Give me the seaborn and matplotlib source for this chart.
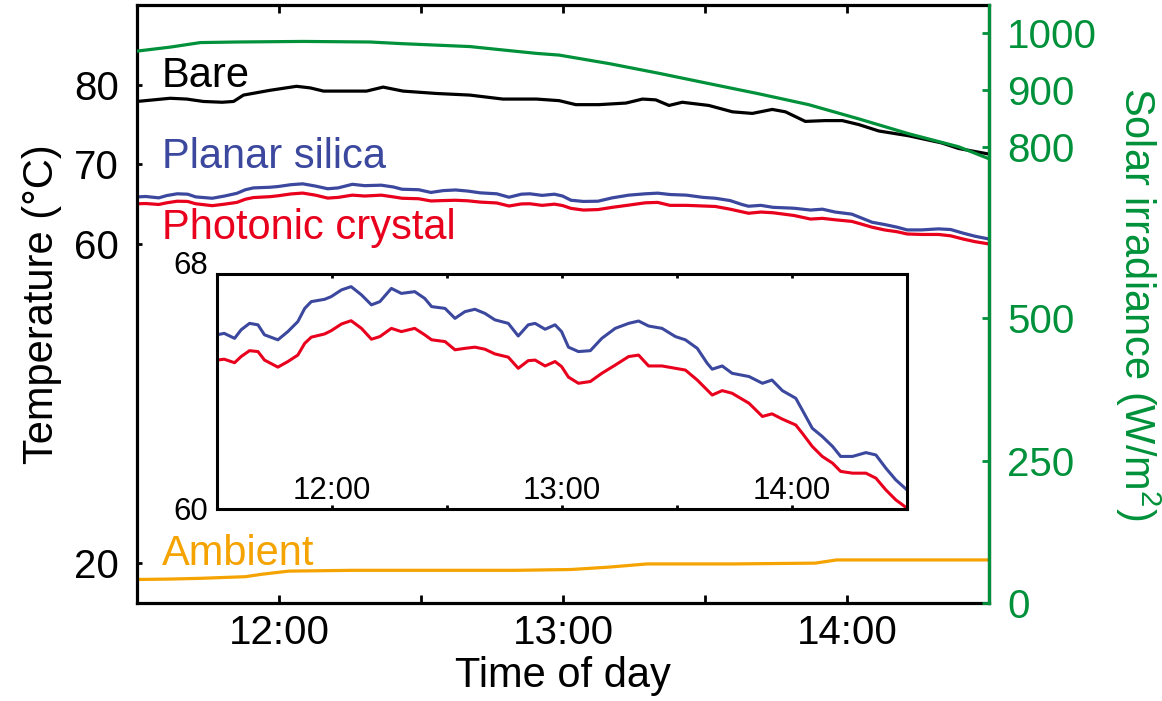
import numpy as np
import matplotlib
matplotlib.use("Agg")
import matplotlib.pyplot as plt
import seaborn as sns

# ---- measured data (time in minutes after midnight) ----
cover_minutes = [
    690.0, 691.9, 694.6, 696.3, 698.5, 700.7, 702.4, 705.9, 708.5, 711.1,
    712.9, 714.6, 718.1, 719.8, 722.5, 725.0, 727.7, 730.3, 732.5, 735.5,
    738.1, 741.6, 744.2, 746.0, 749.5, 752.1, 754.7, 757.3, 759.9, 762.5,
    766.0, 768.6, 771.2, 773.0, 775.6, 778.2, 779.9, 781.7, 784.3, 787.4,
    790.4, 793.9, 797.4, 800.0, 802.6, 806.1, 809.6, 812.2, 815.3, 817.9,
    819.2, 821.8, 824.4, 828.8, 832.3, 834.8, 837.5, 841.0, 842.7, 845.3,
    847.9, 850.6, 852.7, 855.8, 859.3, 861.9, 864.5, 867.1, 870.0,
]
planar_silica = [
    65.93, 65.98, 65.81, 66.10, 66.32, 66.27, 65.93, 65.76, 66.04, 66.38,
    66.83, 67.06, 67.14, 67.23, 67.46, 67.57, 67.29, 66.95, 67.06, 67.51,
    67.34, 67.40, 67.17, 66.89, 66.83, 66.49, 66.72, 66.80, 66.66, 66.44,
    66.32, 65.89, 66.27, 66.32, 66.12, 66.27, 66.04, 65.51, 65.36, 65.39,
    65.81, 66.15, 66.32, 66.40, 66.23, 66.15, 65.87, 65.76, 65.47, 64.96,
    64.76, 64.87, 64.62, 64.51, 64.28, 64.39, 64.03, 63.77, 63.37, 62.75,
    62.47, 62.13, 61.79, 61.79, 61.92, 61.84, 61.39, 60.99, 60.65,
]
photonic_crystal = [
    65.07, 65.10, 64.98, 65.19, 65.39, 65.36, 65.07, 64.83, 65.02, 65.24,
    65.64, 65.85, 65.96, 66.07, 66.30, 66.41, 66.15, 65.78, 65.87, 66.15,
    66.04, 66.15, 65.93, 65.76, 65.70, 65.42, 65.47, 65.51, 65.44, 65.28,
    65.17, 64.79, 65.05, 65.07, 64.87, 65.02, 64.85, 64.49, 64.28, 64.34,
    64.62, 64.90, 65.19, 65.24, 64.87, 64.87, 64.79, 64.73, 64.39, 64.05,
    63.88, 64.03, 63.94, 63.60, 63.15, 63.24, 63.06, 62.86, 62.58, 62.13,
    61.79, 61.56, 61.28, 61.22, 61.22, 61.05, 60.65, 60.31, 60.03,
]

bare_minutes = [
    690.0, 697.0, 700.5, 704.0, 708.0, 710.4, 712.5, 718.1, 723.7, 726.6,
    729.4, 738.5, 742.0, 746.2, 753.3, 760.3, 767.3, 774.4, 779.2, 782.7,
    787.6, 793.3, 796.8, 799.6, 802.4, 805.2, 810.8, 815.8, 820.0, 824.2,
    827.0, 831.2, 835.4, 839.0, 842.5, 846.7, 853.0, 860.0, 863.6, 870.0,
]
bare = [
    77.9, 78.3, 78.2, 77.9, 77.8, 77.9, 78.7, 79.3, 79.8, 79.6,
    79.2, 79.2, 79.7, 79.2, 78.9, 78.7, 78.2, 78.2, 78.0, 77.5,
    77.5, 77.7, 78.2, 78.1, 77.4, 77.8, 77.4, 76.6, 76.4, 76.9,
    76.6, 75.4, 75.5, 75.5, 75.0, 74.2, 73.6, 72.7, 72.0, 71.3,
]

ambient_minutes = [
    690.0, 696.9, 703.7, 712.9, 716.3, 722.1, 735.8, 753.1, 770.2, 781.7,
    789.7, 797.8, 816.1, 833.3, 837.8, 850.4, 870.0,
]
ambient = [
    17.95, 18.0, 18.1, 18.3, 18.6, 19.0, 19.1, 19.1, 19.1, 19.2,
    19.5, 19.9, 19.9, 20.0, 20.4, 20.4, 20.4,
]

solar_minutes = [
    690.0, 697.0, 703.4, 711.1, 725.1, 739.2, 746.2, 760.3, 767.3, 774.4,
    779.2, 789.8, 800.3, 810.8, 821.4, 831.9, 842.5, 853.0, 863.6, 870.0,
]
solar_irradiance = [
    969, 976, 984, 985, 986, 985, 982, 977, 971, 965,
    962, 947, 930, 912, 894, 875, 850, 824, 801, 780,
]

hour_ticks = [12, 13, 14]
half_hour_ticks = [12.5, 13.5]
hour_labels = ["12:00", "13:00", "14:00"]
temp_ticks = [20, 60, 70, 80]
solar_ticks = [0, 250, 500, 800, 900, 1000]
inset_temp_ticks = [60, 68]

series_names = ["Bare", "Planar silica", "Photonic crystal", "Ambient"]

# ---- style ----
BLACK = "#000000"
BLUE = "#3b489e"
RED = "#e8001d"
ORANGE = "#f5a300"
GREEN = "#00913a"

sns.set_style("ticks")
plt.rcParams["font.family"] = ["Liberation Sans", "DejaVu Sans"]
plt.rcParams["mathtext.fontset"] = "custom"
plt.rcParams["mathtext.rm"] = "Liberation Sans"
plt.rcParams["mathtext.it"] = "Liberation Sans"
for key in ["text.color", "axes.labelcolor", "xtick.color", "ytick.color",
            "axes.edgecolor"]:
    plt.rcParams[key] = BLACK

fig = plt.figure(figsize=(11.62, 7.01), dpi=100)
ax = fig.add_axes([0.1179, 0.1398, 0.7332, 0.8531])


def hours(minutes):
    return np.asarray(minutes, dtype=float) / 60.0


line_kw = dict(sort=False, estimator=None, legend=False, linewidth=2.3)

sns.lineplot(x=hours(bare_minutes), y=bare, ax=ax, color=BLACK, **line_kw)
sns.lineplot(x=hours(cover_minutes), y=planar_silica, ax=ax, color=BLUE, **line_kw)
sns.lineplot(x=hours(cover_minutes), y=photonic_crystal, ax=ax, color=RED, **line_kw)
sns.lineplot(x=hours(ambient_minutes), y=ambient, ax=ax, color=ORANGE, **line_kw)

ax.set_xlim(11.5, 14.5)
ax.set_ylim(15, 90)
ax.set_xticks(hour_ticks)
ax.set_xticklabels(hour_labels)
ax.set_xticks(half_hour_ticks, minor=True)
ax.set_yticks(temp_ticks)
ax.tick_params(axis="y", direction="in", length=3.6, width=2, pad=13,
               labelsize=29, colors=BLACK)
ax.tick_params(axis="x", which="both", direction="in", length=5.5, width=2,
               pad=8, top=True, labelsize=29, colors=BLACK)
for side in ["left", "right", "top", "bottom"]:
    ax.spines[side].set_linewidth(2.3)
    ax.spines[side].set_color(BLACK)
ax.set_xlabel("Time of day", fontsize=30, labelpad=2.5, color=BLACK)
ax.set_ylabel("Temperature (°C)", fontsize=30, labelpad=9, color=BLACK)

# series names written next to their curves
label_x = 695.3 / 60
ax.text(label_x, 79.75, series_names[0], color=BLACK, fontsize=30, va="baseline")
ax.text(label_x, 69.56, series_names[1], color=BLUE, fontsize=30, va="baseline")
ax.text(label_x, 60.63, series_names[2], color=RED, fontsize=30, va="baseline")
ax.text(label_x, 19.75, series_names[3], color=ORANGE, fontsize=30, va="baseline")

# solar irradiance on the right axis
ax2 = ax.twinx()
sns.lineplot(x=hours(solar_minutes), y=solar_irradiance, ax=ax2, color=GREEN, **line_kw)
ax2.set_ylim(0, 1050)
ax2.set_xlim(11.5, 14.5)
ax2.set_yticks(solar_ticks)
ax2.tick_params(axis="y", direction="in", length=5, width=2, pad=13,
                labelsize=29, colors=GREEN)
for side in ["left", "top", "bottom"]:
    ax2.spines[side].set_visible(False)
ax2.spines["right"].set_color(GREEN)
ax2.spines["right"].set_linewidth(2.3)
ax2.set_ylabel("Solar irradiance (W/m$^{2}$)", fontsize=30, color=GREEN,
               rotation=270, va="bottom", labelpad=11.5)

# inset: close-up of the two covered samples
ax_in = fig.add_axes([0.1867, 0.2739, 0.5938, 0.3352], zorder=5)
ax_in.set_facecolor("white")
inset_kw = dict(sort=False, estimator=None, legend=False, linewidth=2.2)
sns.lineplot(x=hours(cover_minutes), y=planar_silica, ax=ax_in, color=BLUE, **inset_kw)
sns.lineplot(x=hours(cover_minutes), y=photonic_crystal, ax=ax_in, color=RED, **inset_kw)
ax_in.set_xlim(11.5, 14.5)
ax_in.set_ylim(60, 68)
ax_in.set_xticks(hour_ticks)
ax_in.set_xticklabels(hour_labels)
ax_in.set_xticks(half_hour_ticks, minor=True)
ax_in.set_yticks(inset_temp_ticks)
ax_in.tick_params(axis="x", which="both", direction="in", length=3, width=2,
                  top=True, pad=-24, labelsize=22.5, colors=BLACK)
ax_in.tick_params(axis="y", length=0, pad=6.5, labelsize=22.5, colors=BLACK)
ax_in.get_yticklabels()[1].set_verticalalignment("baseline")
for side in ["left", "right", "top", "bottom"]:
    ax_in.spines[side].set_linewidth(2.2)
    ax_in.spines[side].set_color(BLACK)
ax_in.set_xlabel("")
ax_in.set_ylabel("")

fig.savefig("out.png", dpi=100)
